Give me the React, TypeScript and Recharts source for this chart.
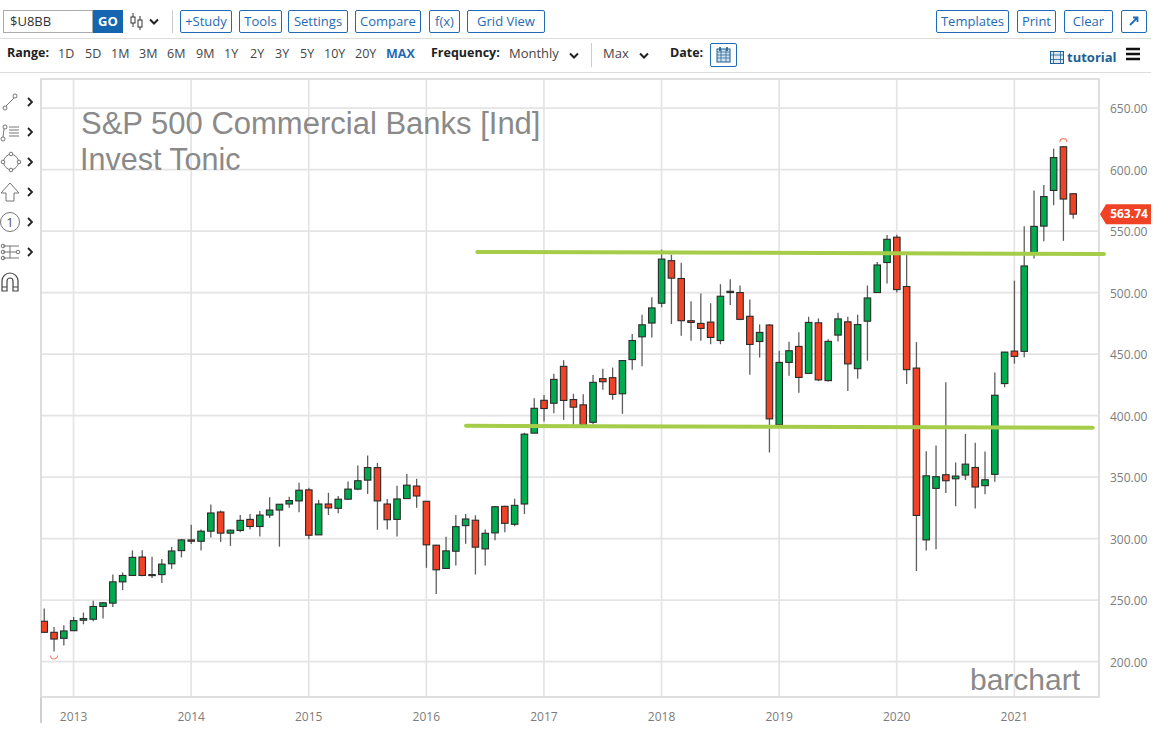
import React from "react";
import {
  Bar,
  CartesianGrid,
  ComposedChart,
  ReferenceArea,
  ReferenceLine,
  XAxis,
  YAxis,
} from "recharts";

// monthly candles, Oct 2012 .. Jul 2021
const opens = [
  232.8, 223.8, 218.9, 225.1, 233.6, 234.4, 244.8, 247.5, 264.8, 270, 285, 270, 270.7, 279.5, 290.2,
  298.9, 297.8, 306, 321.6, 304.4, 306.6, 315.6, 309.8, 319.1, 323.2, 328.1, 330.6, 339.6, 303, 328.1,
  324.6, 332, 340.2, 347.5, 357.7, 328.1, 315.6, 332.5, 342.7, 330.3, 294.6, 275.7, 289.7, 310.5,
  314.9, 291.6, 304.6, 326.2, 311.6, 328.1, 385.7, 412.4, 410, 440, 413, 408.7, 394.5, 430, 430.8,
  417.7, 445.5, 464, 475.2, 491.3, 525.9, 511.4, 477.1, 474.9, 476, 461, 500, 500, 480.7, 460.2, 473.6,
  392.5, 443.2, 456.2, 434.3, 475.4, 428.4, 465.4, 476.2, 438.1, 476.7, 500, 524.4, 545, 504.9, 438.6,
  298.9, 340.8, 351.9, 348.6, 351.6, 357.8, 343, 352.2, 426, 452.4, 452.2, 532, 554, 583, 618.5, 580.3,
];
const highs = [
  243.2, 228.1, 229.5, 236.3, 239.9, 249.5, 248.4, 270.8, 272.4, 290.4, 290.4, 285.2, 283.3, 293.2, 299.7,
  311.2, 307.4, 327.6, 322.7, 307.4, 319.1, 319.9, 322.4, 333.6, 327.9, 333.9, 345.4, 341.3, 331.4, 337.2,
  334.7, 346.4, 359.3, 367.5, 361.5, 332.2, 342.9, 352.5, 348.6, 330.5, 295, 301.4, 319.2, 320,
  318.9, 307.3, 326.2, 326.6, 332.4, 386, 414, 416.8, 434, 445, 417.7, 417.4, 433, 438.1, 439,
  444.7, 466.2, 482, 496.2, 534.9, 530.8, 524.3, 492.9, 499.2, 491.3, 506.8, 510.9, 505.7, 494.3, 474.1, 474.4,
  452.7, 460, 467.8, 480.3, 479, 462, 483.5, 480.3, 482, 505.7, 524.9, 546.8, 547, 531, 459.7,
  371, 375.6, 427, 361.9, 385.1, 377.8, 370.8, 434.9, 451.6, 509.7, 553.8, 583, 587.5, 617, 619, 581,
];
const lows = [
  223.2, 208.2, 213.1, 224.9, 230.3, 232.8, 235, 244.3, 258.2, 270, 269.4, 268, 263.9, 275.4, 284.7,
  295.6, 290.2, 300.8, 297.3, 294, 305.2, 307.4, 301.6, 316.7, 293.4, 325.1, 321.3, 299.5, 303, 319.1,
  320.5, 331.4, 339.3, 336.3, 307.1, 307.4, 301.6, 332.5, 325, 276.2, 254.9, 275.7, 278.1, 295.7,
  270.8, 278.1, 298.6, 305.1, 310, 320, 385.7, 395.1, 401.9, 396.5, 392.6, 392.6, 393, 421, 412.8,
  401.4, 437.3, 440, 463.5, 488, 474.4, 464.8, 460.8, 460.8, 458, 458, 489.9, 477.4, 433.2, 447.1, 370,
  392, 432.4, 418.6, 434.3, 428, 427.6, 460.3, 420, 430, 444.6, 500, 507.3, 500, 425.7, 273.6,
  290.2, 291.3, 337, 326.3, 347.6, 324.5, 336, 346.2, 423, 442.2, 447.3, 527.6, 541.6, 571, 542, 560,
];
const closes = [
  223.8, 218.3, 224.9, 233.3, 235, 244.8, 247.8, 264.8, 270, 284.7, 270, 270.7, 279.2, 289.9, 298.9,
  297.8, 306, 320.8, 304.4, 306.8, 314.8, 309.8, 319.1, 323.2, 327.9, 330.9, 339.3, 302.7, 328.1, 324.9,
  332, 340.2, 347, 357.7, 330.6, 315.3, 332.2, 343.4, 334.6, 294.9, 274.6, 290, 309.7, 315.9,
  293, 304.3, 325.9, 312.4, 327, 384.9, 405.9, 405.7, 429.4, 412.3, 406.8, 392.6, 427, 427.5, 417.2,
  444.7, 461, 473.8, 487.5, 527.2, 511.7, 477.1, 475.7, 470.8, 463.5, 497, 501, 478.2, 457.8, 467.6, 397.3,
  443.2, 452.7, 431, 475.7, 429, 460.3, 478.6, 442, 474, 495.6, 522.4, 543.3, 502.4, 437.3, 318.8,
  351, 350.3, 347, 350.8, 360.5, 341.9, 347.8, 416.5, 451.6, 448.1, 521.6, 553.8, 578, 609.7, 576, 563.74,
];

const yearTicks = [3, 15, 27, 39, 51, 63, 75, 87, 99];
const yearLabels = ["2013", "2014", "2015", "2016", "2017", "2018", "2019", "2020", "2021"];
const priceTicks = [200, 250, 300, 350, 400, 450, 500, 550, 600, 650];
const lastPrice = 563.74;

// the two hand drawn support lines, [month index, price]
const upperLine = [[44.2, 533], [108.15, 531.4]];
const lowerLine = [[43.05, 391.7], [107, 390.1]];

const rangeLabels = [["1D", 58], ["5D", 85], ["1M", 111], ["3M", 139], ["6M", 167], ["9M", 196], ["1Y", 224], ["2Y", 250], ["3Y", 275], ["5Y", 300], ["10Y", 324], ["20Y", 355]];
const leftButtons = [["+Study", 180, 52], ["Tools", 239, 43], ["Settings", 288, 60], ["Compare", 355, 66], ["f(x)", 429, 31], ["Grid View", 467, 78]];
const rightButtons = [["Templates", 936, 73], ["Print", 1017, 39], ["Clear", 1064, 49]];

const candles = opens.map((open, i) => ({
  idx: i,
  open,
  high: highs[i],
  low: lows[i],
  close: closes[i],
}));

const topHigh = Math.max(...highs);
const bottomLow = Math.min(...lows);

const UP = "#00ab4f";
const DOWN = "#f04225";
const BLUE = "#1f6bb5";
const UI_FONT = "'Open Sans', sans-serif";

function Candle(props: any) {
  const { x, y, width, height, payload } = props;
  const top = Math.min(y, y + height);
  const span = Math.abs(height) || 1;
  const toY = (v: number) => top + ((payload.high - v) / (payload.high - payload.low)) * span;
  const cx = x + width / 2;
  const bodyTop = toY(Math.max(payload.open, payload.close));
  const bodyBottom = toY(Math.min(payload.open, payload.close));
  const up = payload.close >= payload.open;
  return (
    <g>
      <line x1={cx} x2={cx} y1={top} y2={top + span} stroke="#5e5e5e" strokeWidth={1.3} />
      <rect
        x={cx - 3.25}
        y={bodyTop}
        width={6.5}
        height={Math.max(bodyBottom - bodyTop, 1)}
        fill={up ? UP : DOWN}
        stroke="#2b2b2b"
        strokeWidth={1.1}
      />
      {payload.high === topHigh && (
        <path d={`M${cx - 3.5} ${top - 4} A3.5 3.5 0 0 1 ${cx + 3.5} ${top - 4}`} fill="none" stroke="#f7806c" strokeWidth={1.1} />
      )}
      {payload.low === bottomLow && (
        <path d={`M${cx - 3.5} ${top + span + 4} A3.5 3.5 0 0 0 ${cx + 3.5} ${top + span + 4}`} fill="none" stroke="#f7806c" strokeWidth={1.1} />
      )}
    </g>
  );
}

function PriceTag(props: any) {
  const { x1, x2, y1, y2 } = props;
  // right edge of the plot, the y axis sits on that side
  const px = Math.max(x1, x2);
  const py = y1 ?? y2;
  return (
    <g>
      <polygon
        points={`${px + 1},${py} ${px + 7},${py - 10} ${px + 52},${py - 10} ${px + 52},${py + 10} ${px + 7},${py + 10}`}
        fill={DOWN}
      />
      <text x={px + 30} y={py + 4} textAnchor="middle" fill="#fff" fontSize={12} fontWeight={700} fontFamily={UI_FONT}>
        {lastPrice.toFixed(2)}
      </text>
    </g>
  );
}

function ToolButton({ left, width, label }: { left: number; width: number; label: string }) {
  return (
    <div
      style={{
        position: "absolute",
        left,
        top: 10,
        width,
        height: 23,
        boxSizing: "border-box",
        border: `1px solid ${BLUE}`,
        borderRadius: 2,
        color: BLUE,
        fontSize: 13,
        lineHeight: "21px",
        textAlign: "center",
      }}
    >
      {label}
    </div>
  );
}

function Label({ left, top, children, style }: any) {
  return (
    <span style={{ position: "absolute", left, top, fontSize: 13, lineHeight: "18px", color: "#444", whiteSpace: "nowrap", ...style }}>
      {children}
    </span>
  );
}

function Chevron({ left, top }: { left: number; top: number }) {
  return (
    <svg style={{ position: "absolute", left, top }} width={12} height={8}>
      <path d="M2 1.5 L6 5.5 L10 1.5" fill="none" stroke="#222" strokeWidth={2} />
    </svg>
  );
}

function ToolIcons() {
  const s = { fill: "none", stroke: "#666", strokeWidth: 0.9 };
  const arrow = (y: number) => <path d={`M28 ${y - 4} L32 ${y} L28 ${y + 4}`} fill="none" stroke="#222" strokeWidth={1.8} />;
  return (
    <svg style={{ position: "absolute", left: 0, top: 80 }} width={40} height={220}>
      <circle cx={5} cy={28} r={2} {...s} /><circle cx={15} cy={16} r={2} {...s} /><path d="M6 26 L14 18" {...s} />
      {arrow(22)}
      <circle cx={3} cy={59} r={2} {...s} /><circle cx={5} cy={47} r={2} {...s} /><path d="M4 49 L3 57 M9 47 H19 M9 50 H19 M9 53 H19 M9 56 H19" {...s} />
      {arrow(52)}
      <path d="M11 74 Q17 75 19 82 Q17 89 11 90 Q5 89 3 82 Q5 75 11 74 Z" {...s} /><circle cx={11} cy={74} r={1.8} fill="#fff" stroke="#666" strokeWidth={0.9} /><circle cx={19} cy={82} r={1.8} fill="#fff" stroke="#666" strokeWidth={0.9} /><circle cx={11} cy={90} r={1.8} fill="#fff" stroke="#666" strokeWidth={0.9} /><circle cx={3} cy={82} r={1.8} fill="#fff" stroke="#666" strokeWidth={0.9} />
      {arrow(82)}
      <path d="M10 103 L19 113 H14 V121 H6 V113 H1 Z" {...s} />
      {arrow(112)}
      <circle cx={10} cy={142} r={9.5} {...s} />
      <text x={10} y={147} textAnchor="middle" fontSize={13} fill="#555" fontFamily={UI_FONT}>1</text>
      {arrow(142)}
      <path d="M3 166 H19 M3 172 H16 M3 178 H19 M10 166 V178" {...s} /><circle cx={3} cy={166} r={1.8} {...s} /><circle cx={18} cy={172} r={1.8} {...s} /><circle cx={3} cy={172} r={1.8} {...s} /><circle cx={3} cy={178} r={1.8} {...s} />
      {arrow(172)}
      <path d="M2 211 V201 A8 8 0 0 1 18 201 V211 H13 V201 A3 3 0 0 0 7 201 V211 Z M2 207 H7 M13 207 H18" fill="none" stroke="#444" strokeWidth={1.2} />
    </svg>
  );
}

function Toolbar() {
  return (
    <>
      <div style={{ position: "absolute", left: 3, top: 10, width: 90, height: 23, boxSizing: "border-box", border: "1px solid #aaa", fontSize: 13, lineHeight: "21px", paddingLeft: 6, color: "#333" }}>
        $U8BB
      </div>
      <div style={{ position: "absolute", left: 93, top: 10, width: 30, height: 23, background: "#1565b0", color: "#fff", fontSize: 13, fontWeight: 700, lineHeight: "23px", textAlign: "center" }}>
        GO
      </div>
      <svg style={{ position: "absolute", left: 129, top: 13 }} width={18} height={18}>
        <path d="M4 0 V14 M11 3 V17" stroke="#333" />
        <rect x={2} y={4} width={4} height={6} fill="#fff" stroke="#333" />
        <rect x={9} y={7} width={4} height={7} fill="#fff" stroke="#333" />
      </svg>
      <Chevron left={148} top={18} />
      <div style={{ position: "absolute", left: 172, top: 10, width: 1, height: 23, background: "#ccc" }} />
      {leftButtons.map(([label, left, width]) => (
        <ToolButton key={label as string} label={label as string} left={left as number} width={width as number} />
      ))}
      {rightButtons.map(([label, left, width]) => (
        <ToolButton key={label as string} label={label as string} left={left as number} width={width as number} />
      ))}
      <div style={{ position: "absolute", left: 1121, top: 10, width: 26, height: 23, boxSizing: "border-box", border: `1px solid ${BLUE}`, borderRadius: 2 }}>
        <svg width={24} height={21}>
          <path d="M8 14 L15 7 M11 6.5 H15.5 V11" fill="none" stroke={BLUE} strokeWidth={1.8} />
        </svg>
      </div>
      <div style={{ position: "absolute", left: 0, top: 38, width: 1151, height: 1, background: "#ddd" }} />

      <Label left={7} top={44} style={{ fontWeight: 700, color: "#222", fontSize: 12.5 }}>Range:</Label>
      {rangeLabels.map(([label, left]) => (
        <Label key={label as string} left={left} top={45} style={{ fontSize: 12.5 }}>{label}</Label>
      ))}
      <Label left={386} top={45} style={{ fontWeight: 700, color: BLUE, fontSize: 12.5 }}>MAX</Label>
      <Label left={431} top={44} style={{ fontWeight: 700, color: "#222", fontSize: 12.5 }}>Frequency:</Label>
      <Label left={509} top={44}>Monthly</Label>
      <Chevron left={568} top={52} />
      <div style={{ position: "absolute", left: 591, top: 43, width: 1, height: 24, background: "#ccc" }} />
      <Label left={603} top={44}>Max</Label>
      <Chevron left={638} top={52} />
      <Label left={670} top={44} style={{ fontWeight: 700, color: "#222", fontSize: 12.5 }}>Date:</Label>
      <div style={{ position: "absolute", left: 710, top: 43, width: 27, height: 24, boxSizing: "border-box", border: `1px solid ${BLUE}`, borderRadius: 2 }}>
        <svg width={25} height={22}>
          <rect x={6} y={5} width={13} height={13} fill="#cfe0ee" stroke="#1d5f94" />
          <path d="M6 8 H19 M6 11 H19 M6 14 H19 M10 5 V18 M15 5 V18" stroke="#1d5f94" strokeWidth={0.7} />
          <path d="M9 3 V7 M16 3 V7" stroke="#1d5f94" strokeWidth={1.6} />
        </svg>
      </div>
      <svg style={{ position: "absolute", left: 1050, top: 51 }} width={15} height={13}>
        <rect x={0.5} y={0.5} width={13} height={12} fill="#dfe9f2" stroke="#1d5f94" />
        <path d="M3.5 0.5 V12.5 M10.5 0.5 V12.5 M0.5 4 H13.5 M0.5 8.5 H13.5" stroke="#1d5f94" strokeWidth={0.8} />
      </svg>
      <Label left={1067} top={48} style={{ fontWeight: 700, color: "#1d5f94" }}>tutorial</Label>
      <svg style={{ position: "absolute", left: 1126, top: 47 }} width={15} height={14}>
        <path d="M0 2 H14 M0 7 H14 M0 12 H14" stroke="#111" strokeWidth={2.4} />
      </svg>
      <div style={{ position: "absolute", left: 0, top: 72, width: 1151, height: 1, background: "#ddd" }} />
      <ToolIcons />
    </>
  );
}

const watermark = {
  position: "absolute",
  color: "#8a8a8a",
  fontFamily: "'Liberation Sans', Arial, sans-serif",
  fontSize: 31,
  lineHeight: "34px",
  whiteSpace: "nowrap",
} as React.CSSProperties;

export default function App() {
  return (
    <div style={{ position: "absolute", left: 0, top: 0, width: 1170, height: 731, background: "#fff", fontFamily: UI_FONT, overflow: "hidden" }}>
      <Toolbar />
      <div style={{ position: "absolute", left: 40, top: 79, width: 1.5, height: 644, background: "#cfcfcf" }} />
      <ComposedChart
        style={{ position: "absolute", left: 0, top: 0 }}
        width={1170}
        height={731}
        data={candles}
        margin={{ top: 79, right: 0, bottom: 0, left: 41 }}
      >
        <CartesianGrid stroke="#e4e4e4" strokeWidth={1.7} />
        <XAxis
          dataKey="idx"
          type="number"
          domain={[-0.32, 107.64]}
          ticks={yearTicks}
          tickFormatter={(v: number) => yearLabels[yearTicks.indexOf(v)]}
          height={34}
          axisLine={false}
          tickLine={false}
          tickMargin={9}
          tick={{ fontSize: 12, fill: "#7c7c7c", fontFamily: UI_FONT }}
          allowDataOverflow
        />
        <YAxis
          type="number"
          orientation="right"
          domain={[171.2, 673.6]}
          ticks={priceTicks}
          tickFormatter={(v: number) => v.toFixed(2)}
          width={71}
          axisLine={false}
          tickLine={false}
          tickMargin={5}
          tick={{ fontSize: 12, fill: "#7c7c7c", fontFamily: UI_FONT, dy: 1 }}
          allowDataOverflow
        />
        <ReferenceArea x1={-0.32} x2={107.64} y1={171.2} y2={673.6} fill="none" stroke="#dcdcdc" strokeWidth={1.7} ifOverflow="visible" />
        <Bar dataKey={(d: any) => [d.low, d.high]} barSize={8} shape={Candle} isAnimationActive={false} />
        <ReferenceLine
          segment={upperLine.map(([x, y]) => ({ x, y }))}
          stroke="#a5cd4a"
          strokeWidth={4}
          strokeLinecap="round"
          ifOverflow="visible"
        />
        <ReferenceLine
          segment={lowerLine.map(([x, y]) => ({ x, y }))}
          stroke="#a5cd4a"
          strokeWidth={4}
          strokeLinecap="round"
          ifOverflow="visible"
        />
        <ReferenceLine y={lastPrice} shape={PriceTag} ifOverflow="visible" />
      </ComposedChart>
      <div style={{ ...watermark, left: 81, top: 107 }}>S&amp;P 500 Commercial Banks [Ind]</div>
      <div style={{ ...watermark, left: 80, top: 142, fontSize: 30.5 }}>Invest Tonic</div>
      <div style={{ ...watermark, left: 970, top: 663, fontSize: 30 }}>barchart</div>
    </div>
  );
}
